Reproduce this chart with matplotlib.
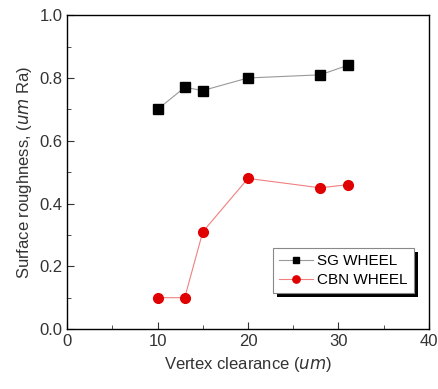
import matplotlib
matplotlib.use('Agg')
import matplotlib.pyplot as plt
from matplotlib.patches import Rectangle
from matplotlib.ticker import MultipleLocator

plt.rcParams['font.family'] = ['Liberation Sans', 'DejaVu Sans']

clearance = [10, 13, 15, 20, 28, 31]
sg_wheel = [0.70, 0.77, 0.76, 0.80, 0.81, 0.84]
cbn_wheel = [0.10, 0.10, 0.31, 0.48, 0.45, 0.46]

fig = plt.figure(figsize=(4.39, 3.89), dpi=100)
ax = fig.add_axes([0.153, 0.154, 0.824, 0.807])

ax.plot(clearance, sg_wheel, color='#999999', lw=0.8, marker='s', ms=6.5,
        mfc='black', mec='black', label='SG WHEEL')
ax.plot(clearance, cbn_wheel, color='#f08080', lw=0.8, marker='o', ms=7,
        mfc='#e00000', mec='#e00000', label='CBN WHEEL')

ax.set_xlim(0, 40)
ax.set_ylim(0, 1.0)
ax.xaxis.set_major_locator(MultipleLocator(10))
ax.xaxis.set_minor_locator(MultipleLocator(5))
ax.yaxis.set_major_locator(MultipleLocator(0.2))
ax.yaxis.set_minor_locator(MultipleLocator(0.1))
ax.tick_params(which='both', direction='in', labelsize=12, colors='#333333')
ax.tick_params(which='major', length=5)
ax.tick_params(which='minor', length=3)
for s in ax.spines.values():
    s.set_linewidth(1.0)

ax.set_xlabel('Vertex clearance ($\\it{um}$)', fontsize=12, color='#333333')
ax.set_ylabel('Surface roughness, ($\\it{um}$ Ra)', fontsize=12, color='#333333')

leg = ax.legend(loc='lower right', bbox_to_anchor=(0.959, 0.115), fontsize=11,
                fancybox=False, edgecolor='#888888', framealpha=1,
                markerscale=0.75, handlelength=2.2, handletextpad=0.3,
                borderpad=0.4, labelspacing=0.3, borderaxespad=0)
leg.get_frame().set_linewidth(0.8)
leg.set_zorder(10)

# thick black drop shadow behind the legend box
fig.canvas.draw()
bb = leg.get_frame().get_window_extent()
(x0, y0), (x1, y1) = ax.transAxes.inverted().transform([[bb.x0 + 4, bb.y0 - 4],
                                                       [bb.x1 + 4, bb.y1 - 4]])
shadow = Rectangle((x0, y0), x1 - x0, y1 - y0, transform=ax.transAxes,
                   facecolor='black', edgecolor='none', zorder=9, clip_on=False)
ax.add_patch(shadow)

fig.savefig('out.png', dpi=100)
